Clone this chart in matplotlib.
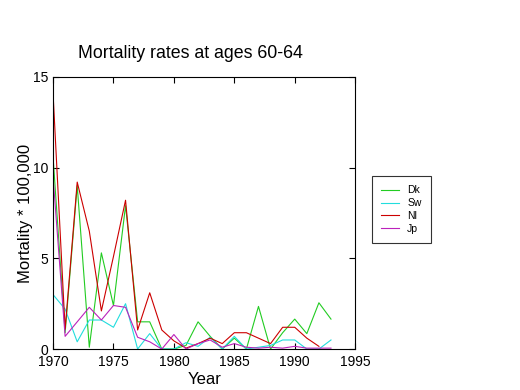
import matplotlib
matplotlib.use("Agg")
import matplotlib.pyplot as plt
import numpy as np

plt.rcParams['font.family'] = ['Liberation Sans', 'DejaVu Sans']

years = np.arange(1970, 1994)
dk = [10.6, 0.9, 9.0, 0.1, 5.3, 2.4, 7.9, 1.5, 1.5, 0.0, 0.0, 0.2,
      1.5, 0.7, 0.0, 0.6, 0.0, 2.35, 0.0, 0.9, 1.65, 0.85, 2.55, 1.65]
sw = [3.0, 2.2, 0.4, 1.6, 1.6, 1.2, 2.5, 0.0, 0.85, 0.0, 0.0, 0.35,
      0.15, 0.65, 0.0, 0.7, 0.0, 0.1, 0.2, 0.5, 0.5, 0.0, 0.0, 0.5]
nl = [14.1, 1.1, 9.2, 6.5, 2.1, 5.1, 8.2, 1.05, 3.1, 1.05, 0.45, 0.05,
      0.3, 0.6, 0.3, 0.9, 0.9, 0.6, 0.3, 1.2, 1.2, 0.6, 0.15]
jp = [9.5, 0.7, 1.5, 2.3, 1.6, 2.4, 2.3, 0.65, 0.4, 0.0, 0.8, 0.0,
      0.3, 0.5, 0.1, 0.3, 0.1, 0.05, 0.1, 0.05, 0.15, 0.05, 0.05, 0.05]
labels = ["Dk", "Sw", "Nl", "Jp"]
colors = ["#22cc22", "#22dddd", "#cc0000", "#bb22bb"]

fig = plt.figure(figsize=(5.2, 3.9), dpi=100)
ax = fig.add_axes([0.102, 0.105, 0.581, 0.698])

ax.plot(years, dk, color=colors[0], lw=0.8, label=labels[0])
ax.plot(years, sw, color=colors[1], lw=0.8, label=labels[1])
ax.plot(years[:len(nl)], nl, color=colors[2], lw=0.8, label=labels[2])
ax.plot(years, jp, color=colors[3], lw=0.8, label=labels[3])

ax.set_xlim(1970, 1995)
ax.set_ylim(0, 15)
ax.set_xticks([1970, 1975, 1980, 1985, 1990, 1995])
ax.set_yticks([0, 5, 10, 15])
ax.tick_params(direction='in', top=True, right=True, labelsize=10, length=4)
ax.tick_params(axis='x', pad=4.5)
for s in ax.spines.values():
    s.set_linewidth(0.8)

# title sits left of the axes centre in the original
fig.text(0.367, 0.862, "Mortality rates at ages 60-64", fontsize=12.8,
         ha='center', va='center')
ax.set_xlabel("Year", fontsize=12, labelpad=2)
ax.set_ylabel("Mortality * 100,000", fontsize=12)
ax.yaxis.set_label_coords(-0.066, 0.5)

leg = fig.legend(loc='upper left', bbox_to_anchor=(0.715, 0.549), fontsize=7.5,
                 frameon=True, fancybox=False, edgecolor='black',
                 handlelength=1.7, labelspacing=0.28, borderpad=0.9,
                 borderaxespad=0, handletextpad=0.8)
leg.get_frame().set_linewidth(0.8)

fig.savefig("out.png", dpi=100)
